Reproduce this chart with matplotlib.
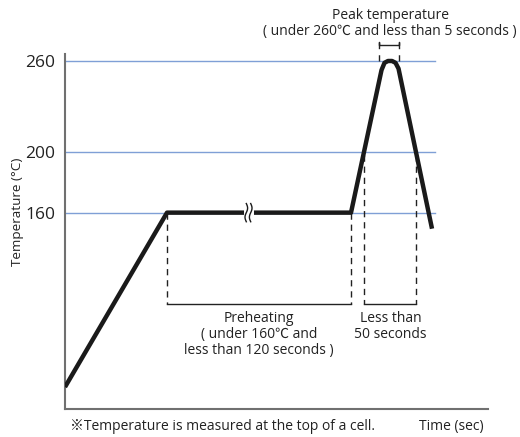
import numpy as np
import matplotlib
matplotlib.use("Agg")
import matplotlib.pyplot as plt

plt.rcParams['font.family'] = ['Open Sans', 'Noto Sans CJK JP', 'DejaVu Sans']

# reflow profile (time in arbitrary units, temperature in deg C)
time = [0, 102, 286, 316.5, 319.5, 323, 327, 330.5, 333.5, 367]
temp = [45, 160, 160, 254, 258.8, 260, 260, 258.8, 255, 149.4]

grid_levels = [160, 200, 260]
tick_labels = ['160', '200', '260']

preheat_start, preheat_end = 102, 286
reflow_start, reflow_end = 299, 351
peak_start, peak_end = 314, 334
break_x = 183.5
bracket_y = 100

fig = plt.figure(figsize=(5.2, 4.37), dpi=100)
ax = fig.add_axes([0.125, 0.064, 0.8135, 0.8124])
ax.set_xlim(0, 423)
ax.set_ylim(30.5, 264.6)

grid_col = '#7f9fd6'
for g in grid_levels:
    ax.plot([0, 370], [g, g], color=grid_col, lw=1.0, zorder=1)

ax.plot(time, temp, color='#1a1a1a', lw=3.2, solid_joinstyle='round',
        solid_capstyle='butt', zorder=3)

# break mark on the plateau
ax.plot([break_x - 1.8, break_x + 1.8], [160, 160], color='white', lw=5, zorder=4)
t = np.linspace(-1, 1, 40)
for dx in (-2.2, 2.2):
    ax.plot(break_x + dx + 1.3 * np.sin(t * np.pi), 160 + 6 * t,
            color='#1a1a1a', lw=1.0, zorder=5)

dash = dict(color='#222222', lw=1.0, ls=(0, (4.5, 3.5)), zorder=2)
ax.plot([preheat_start, preheat_start], [160, bracket_y], **dash)
ax.plot([preheat_end, preheat_end], [160, bracket_y], **dash)
ax.plot([reflow_start, reflow_start], [198, bracket_y], **dash)
ax.plot([reflow_end, reflow_end], [198, bracket_y], **dash)
ax.plot([preheat_start, preheat_end], [bracket_y, bracket_y], color='#222222', lw=1.0)
ax.plot([reflow_start, reflow_end], [bracket_y, bracket_y], color='#222222', lw=1.0)

# peak bracket above the axes
ax.plot([peak_start, peak_start], [260, 266.5], clip_on=False, **dash)
ax.plot([peak_end, peak_end], [260, 266.5], clip_on=False, **dash)
ax.plot([peak_start, peak_start, peak_start, peak_end, peak_end, peak_end],
        [268.5, 272.5, 270.5, 270.5, 272.5, 268.5], color='#222222', lw=1.0,
        clip_on=False)

txt = dict(ha='center', va='center', fontsize=10, color='#222222', clip_on=False)
ax.text(325, 290.3, 'Peak temperature', **txt)
ax.text(325, 279.7, '( under 260℃ and less than 5 seconds )', **txt)
ax.text(194, 90.5, 'Preheating', **txt)
ax.text(194, 79.9, '( under 160℃ and', **txt)
ax.text(194, 69.3, 'less than 120 seconds )', **txt)
ax.text(325.5, 90.5, 'Less than', **txt)
ax.text(325.5, 79.9, '50 seconds', **txt)

for s in ('top', 'right'):
    ax.spines[s].set_visible(False)
for s in ('left', 'bottom'):
    ax.spines[s].set_color('#707070')
    ax.spines[s].set_linewidth(1.5)

ax.set_xticks([])
ax.set_yticks(grid_levels)
ax.set_yticklabels(tick_labels, fontsize=12.5, color='#222222')
ax.tick_params(axis='y', length=0, pad=7)

fig.text(0.033, 0.515, 'Temperature (°C)', rotation=90, ha='center', va='center',
         fontsize=9.7, color='#222222')
fig.text(0.134, 0.023, '※Temperature is measured at the top of a cell.',
         ha='left', va='center', fontsize=10, color='#222222')
fig.text(0.931, 0.023, 'Time (sec)', ha='right', va='center', fontsize=10,
         color='#222222')

fig.savefig('out.png', dpi=100)
